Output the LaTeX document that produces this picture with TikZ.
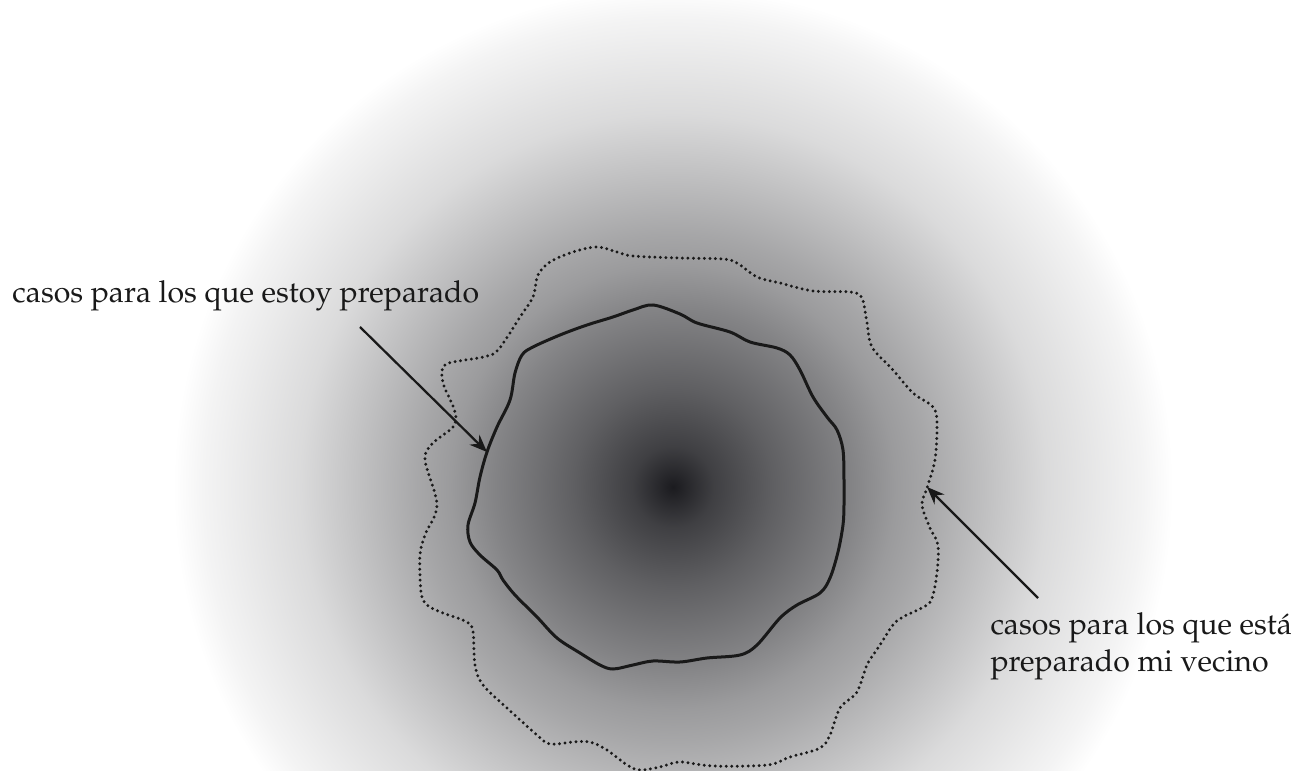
\documentclass[tikz,border=0pt]{standalone}
\usepackage[T1]{fontenc}
\usepackage{mathpazo}
\usepackage{tikz}
\usetikzlibrary{arrows.meta, positioning, calc}

\definecolor{ink}{RGB}{27,27,31}
\pgfdeclareradialshading{haze}{\pgfpoint{0bp}{0bp}}{%
	color(0bp)=(ink);
	color(2bp)=(white!16!ink);
	color(4.9bp)=(white!30!ink);
	color(8.8bp)=(white!46!ink);
	color(10.9bp)=(white!56!ink);
	color(12.4bp)=(white!61!ink);
	color(18.3bp)=(white!84!ink);
	color(23bp)=(white!95!ink);
	color(24.5bp)=(white);
	color(50bp)=(white)}

\begin{document}
\begin{tikzpicture}[x=0.4pt, y=-0.4pt, >={Stealth[length=7pt, width=5.6pt]},
		font=\fontsize{12.1}{14.8}\selectfont,
		label/.style={anchor=base west, inner sep=0pt, text=black!90},
		pointer/.style={->, line width=0.9pt, black!90},
		border/.style={line width=1.2pt, black!90, smooth cycle, tension=0.55},
		dotline/.style={line width=1.3pt, black!90, line cap=round, dash pattern=on 0pt off 2.2pt, smooth cycle, tension=0.55}]
				\useasboundingbox (0,0) rectangle (1314,771);
				\begin{scope}
					\clip (0,0) rectangle (1314,771);
					\shade[shading=haze] (673,487) circle[radius=204pt];
				\end{scope}
				
				\draw[border] plot coordinates {(653,305) (680,314) (697,323) (730,332) (750,342) (777,348) (790,355) (800,370) (813,397) (827,417) (837,430) (843,450) (844,480) (844,505) (843,525) (838,552) (830,578) (820,593) (797,605) (780,618) (757,645) (740,655) (707,658) (680,662) (653,661) (633,665) (613,669) (600,665) (580,653) (557,638) (537,617) (515,595) (503,580) (497,570) (480,555) (470,542) (468,525) (475,503) (480,477) (487,452) (497,427) (510,400) (515,373) (522,355) (533,347) (560,335) (587,325) (613,317) (633,310)};
				\draw[dotline] plot coordinates {(597,247) (617,252) (633,256) (680,258) (723,259) (737,263) (757,277) (780,283) (813,291) (850,292) (862,298) (867,323) (872,347) (893,370) (913,393) (933,407) (937,423) (935,460) (927,488) (922,505) (930,528) (938,545) (937,572) (933,595) (927,605) (903,617) (893,625) (880,645) (867,665) (857,692) (840,708) (830,735) (820,748) (790,757) (767,765) (713,766) (680,762) (660,767) (640,770) (627,765) (607,750) (590,742) (573,742) (550,744) (537,735) (507,708) (483,685) (475,665) (473,632) (467,622) (443,613) (427,605) (421,592) (420,555) (425,535) (437,505) (425,460) (433,443) (453,427) (455,412) (443,383) (443,367) (453,362) (483,357) (498,350) (520,317) (533,297) (538,275) (550,262) (573,252)};
				
				\node[label] (mine) at (12,303) {casos para los que estoy preparado};
				\node[label, align=left] (neighbour) at (990,672) {casos para los que est\'a\\preparado mi vecino};
				
				\coordinate (minetail) at (360,327);
				\coordinate (minetip) at (487,452);
				\coordinate (neighbourtail) at (1038,598);
				\coordinate (neighbourtip) at (927,487);
				\draw[pointer] (minetail) -- (minetip);
				\draw[pointer] (neighbourtail) -- (neighbourtip);
\end{tikzpicture}
\end{document}
